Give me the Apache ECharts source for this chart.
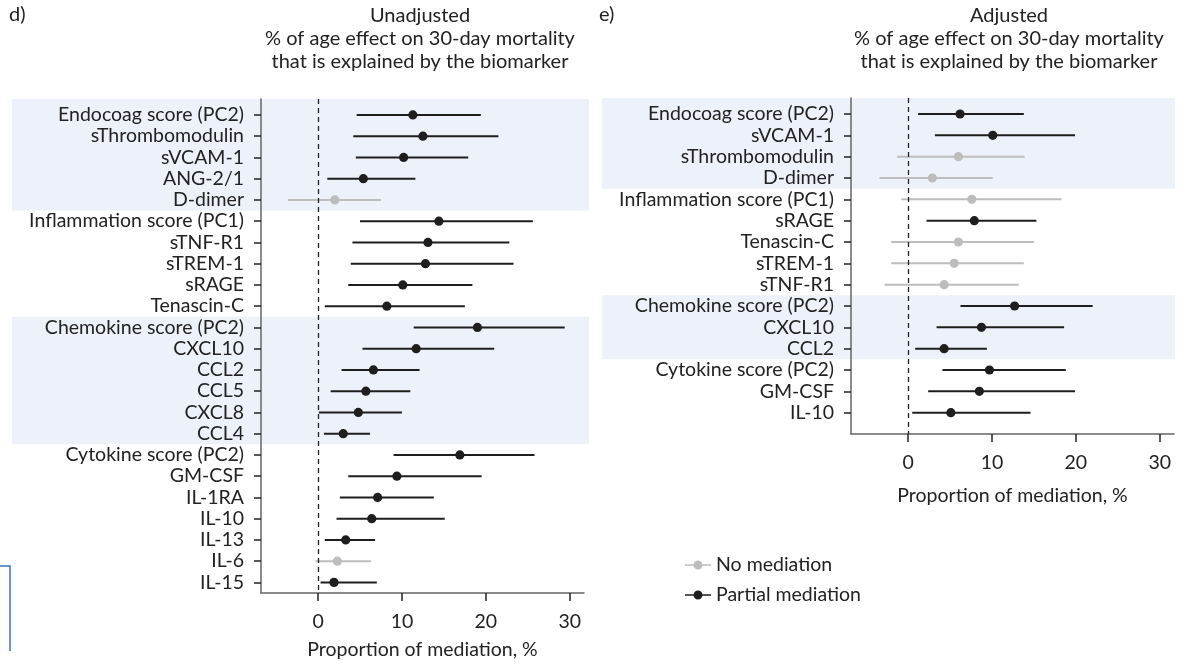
<!DOCTYPE html>
<html>
<head>
<meta charset="utf-8">
<script src="https://cdn.jsdelivr.net/npm/echarts@6/dist/echarts.min.js"></script>
<style>
  html, body { margin: 0; padding: 0; background: #fff; }
  #chart { width: 1188px; height: 665px; }
</style>
</head>
<body>
<div id="chart"></div>
<script>
// d) unadjusted
var leftLabels = ['Endocoag score (PC2)', 'sThrombomodulin', 'sVCAM-1', 'ANG-2/1', 'D-dimer',
    'Inflammation score (PC1)', 'sTNF-R1', 'sTREM-1', 'sRAGE', 'Tenascin-C',
    'Chemokine score (PC2)', 'CXCL10', 'CCL2', 'CCL5', 'CXCL8', 'CCL4',
    'Cytokine score (PC2)', 'GM-CSF', 'IL-1RA', 'IL-10', 'IL-13', 'IL-6', 'IL-15'];
var leftEst = [11.3, 12.5, 10.2, 5.4, 2.0, 14.4, 13.1, 12.8, 10.1, 8.2, 19.0, 11.7, 6.6, 5.7, 4.8, 3.0, 16.9, 9.4, 7.1, 6.4, 3.3, 2.3, 1.9];
var leftLo = [4.6, 4.2, 4.5, 1.1, -3.6, 5.0, 4.1, 3.9, 3.6, 0.8, 11.4, 5.3, 2.8, 1.5, 0.1, 0.7, 9.0, 3.6, 2.6, 2.2, 0.8, -0.3, 0.3];
var leftHi = [19.4, 21.5, 17.9, 11.6, 7.5, 25.6, 22.8, 23.3, 18.4, 17.5, 29.4, 21.0, 12.1, 11.0, 10.0, 6.2, 25.8, 19.5, 13.8, 15.1, 6.8, 6.3, 7.0];
var leftMediated = [1, 1, 1, 1, 0, 1, 1, 1, 1, 1, 1, 1, 1, 1, 1, 1, 1, 1, 1, 1, 1, 0, 1];
var leftBands = [[0, 4], [10, 15]];

// e) adjusted
var rightLabels = ['Endocoag score (PC2)', 'sVCAM-1', 'sThrombomodulin', 'D-dimer',
    'Inflammation score (PC1)', 'sRAGE', 'Tenascin-C', 'sTREM-1', 'sTNF-R1',
    'Chemokine score (PC2)', 'CXCL10', 'CCL2',
    'Cytokine score (PC2)', 'GM-CSF', 'IL-10'];
var rightEst = [6.2, 10.1, 6.0, 2.9, 7.6, 7.9, 6.0, 5.5, 4.3, 12.7, 8.75, 4.3, 9.7, 8.5, 5.1];
var rightLo = [1.2, 3.2, -1.3, -3.4, -0.8, 2.2, -2.0, -2.0, -2.8, 6.25, 3.4, 0.85, 4.1, 2.4, 0.5];
var rightHi = [13.8, 19.9, 13.9, 10.1, 18.3, 15.3, 15.0, 13.8, 13.2, 22.0, 18.6, 9.4, 18.8, 19.9, 14.6];
var rightMediated = [1, 1, 0, 0, 0, 1, 0, 0, 0, 1, 1, 1, 1, 1, 1];
var rightBands = [[0, 3], [9, 11]];

var xTicks = [0, 10, 20, 30];
var groupNames = ['No mediation', 'Partial mediation'];
var groupColors = ['#bdbdbd', '#1e1e1e'];

var FONT = 'Lato';
var FS = 19.5;
var TXT = '#222';

function rows(est, lo, hi, med, flag) {
    var out = [];
    for (var i = 0; i < est.length; i++) {
        if (med[i] === flag) out.push([est[i], lo[i], hi[i], i]);
    }
    return out;
}

function renderCI(params, api) {
    var r = api.value(3);
    var a = api.coord([api.value(1), r]);
    var b = api.coord([api.value(2), r]);
    var c = api.coord([api.value(0), r]);
    var col = api.visual('color');
    return {
        type: 'group',
        children: [
            { type: 'line', shape: { x1: a[0], y1: a[1], x2: b[0], y2: b[1] }, style: { stroke: col, lineWidth: 2 } },
            { type: 'circle', shape: { cx: c[0], cy: c[1], r: 4.6 }, style: { fill: col } }
        ]
    };
}

function xAxisFor(idx) {
    return {
        type: 'value', gridIndex: idx, min: -6.8, max: 31.7,
        axisLine: { show: true, onZero: false, lineStyle: { color: '#666', width: 1.5 } },
        axisTick: { show: true, customValues: xTicks, length: 8, lineStyle: { color: '#222', width: 1.5 } },
        axisLabel: { customValues: xTicks, color: TXT, fontFamily: FONT, fontSize: FS, margin: 19 },
        splitLine: { show: false },
        name: 'Proportion of mediation, %', nameLocation: 'middle', nameGap: idx === 0 ? 47 : 52,
        nameTextStyle: { color: TXT, fontFamily: FONT, fontSize: FS }
    };
}

function yAxisFor(idx, labels, max) {
    var ticks = labels.map(function (d, i) { return i; });
    return {
        type: 'value', gridIndex: idx, inverse: true, min: -0.75, max: max,
        axisLine: { show: true, onZero: false, lineStyle: { color: '#666', width: 1.5 } },
        axisTick: { show: true, customValues: ticks, length: 7, lineStyle: { color: '#222', width: 1.5 } },
        axisLabel: {
            customValues: ticks, color: TXT, fontFamily: FONT, fontSize: FS, margin: 17,
            formatter: function (v) { return labels[Math.round(v)]; }
        },
        splitLine: { show: false }
    };
}

function seriesFor(idx, est, lo, hi, med) {
    return [0, 1].map(function (g) {
        var s = {
            name: groupNames[g], type: 'custom', xAxisIndex: idx, yAxisIndex: idx,
            renderItem: renderCI, itemStyle: { color: groupColors[g] },
            encode: { x: [0, 1, 2], y: 3 }, silent: true,
            data: rows(est, lo, hi, med, g)
        };
        if (g === 0) {
            s.markLine = {
                silent: true, symbol: 'none', label: { show: false },
                lineStyle: { type: [5, 4], color: '#222', width: 1.3 },
                data: [{ xAxis: 0 }]
            };
        }
        return s;
    });
}

var legendIcon = 'path://M0,4.2 L26,4.2 L26,5.8 L0,5.8 Z M13,0.5 A4.5,4.5 0 1 1 12.99,0.5 Z';

var chart = echarts.init(document.getElementById('chart'));
chart.setOption({
    animation: false,
    textStyle: { fontFamily: FONT },
    grid: [
        { left: 261, width: 323, top: 99, height: 495 },
        { left: 851, width: 323, top: 98, height: 336 }
    ],
    xAxis: [xAxisFor(0), xAxisFor(1)],
    yAxis: [yAxisFor(0, leftLabels, 22.5), yAxisFor(1, rightLabels, 15)],
    legend: {
        data: groupNames, orient: 'vertical', left: 680, top: 550, itemGap: 10,
        itemWidth: 26, itemHeight: 9, icon: legendIcon, selectedMode: false,
        textStyle: { color: TXT, fontFamily: FONT, fontSize: FS }
    },
    series: seriesFor(0, leftEst, leftLo, leftHi, leftMediated)
        .concat(seriesFor(1, rightEst, rightLo, rightHi, rightMediated))
});

function bandRects(idx, bands, x0, x1) {
    return bands.map(function (b) {
        var top = chart.convertToPixel({ yAxisIndex: idx }, b[0] === 0 ? -0.75 : b[0] - 0.5);
        var bot = chart.convertToPixel({ yAxisIndex: idx }, b[1] + 0.5);
        return { type: 'rect', z: -1, silent: true, shape: { x: x0, y: top, width: x1 - x0, height: bot - top }, style: { fill: '#edf1fa' } };
    });
}

var titleText = '% of age effect on 30-day mortality\nthat is explained by the biomarker';
var titleFont = '20px ' + FONT;
chart.setOption({
    graphic: bandRects(0, leftBands, 12, 589).concat(bandRects(1, rightBands, 602, 1175)).concat([
        { type: 'text', x: 9, y: 5, style: { text: 'd)', font: titleFont, fill: TXT } },
        { type: 'text', x: 599, y: 5, style: { text: 'e)', font: titleFont, fill: TXT } },
        { type: 'text', x: 420, y: 4, style: { text: 'Unadjusted\n' + titleText, font: titleFont, fill: TXT, align: 'center', lineHeight: 23 } },
        { type: 'text', x: 1009, y: 4, style: { text: 'Adjusted\n' + titleText, font: titleFont, fill: TXT, align: 'center', lineHeight: 23 } },
        { type: 'polyline', shape: { points: [[0, 566], [10, 566], [10, 651]] }, style: { stroke: '#3b74b4', lineWidth: 1.5, fill: null } }
    ])
});
</script>
</body>
</html>
